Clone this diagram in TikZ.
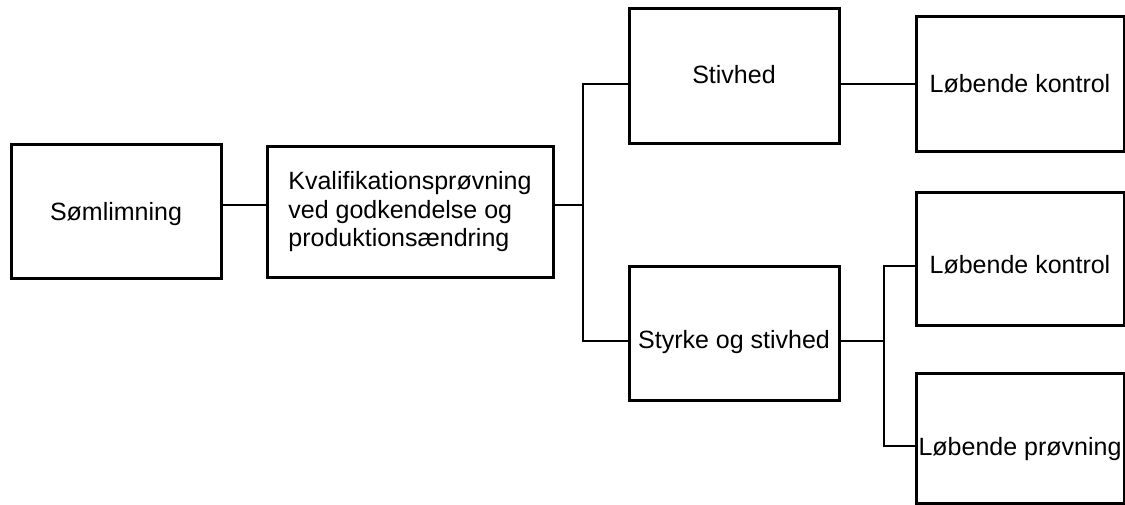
\documentclass[tikz,border=0pt]{standalone}
\usepackage{fontspec}
\setmainfont{Liberation Sans}
\tikzset{mbox/.style = {shape = rectangle,
                        draw = black,
                        line width = 3pt,
                        inner sep = 0pt,
                        font = \fontsize{25pt}{28.5pt}\selectfont}}

\begin{document}
\begin{tikzpicture}[x = 1pt, y = -1pt,
                    tline/.style = {text height = #1, text depth = 0pt},
                    mline/.style = {line width = 2.3pt, line join = miter}]
		\useasboundingbox (0,0) rectangle (1125,505);
		\node[mbox, minimum width = 210pt, minimum height = 134pt, tline = 18pt] (1) at (116,212) {Sømlimning};
		\node[mbox, minimum width = 286pt, minimum height = 131pt, align = left] (2) at (410,212) {Kvalifikationsprøvning\\ved godkendelse og\\produktionsændring};
		\node[mbox, minimum width = 210pt, minimum height = 135pt, tline = 15pt] (3) at (734,76.5) {Stivhed};
		\node[mbox, minimum width = 208pt, minimum height = 135pt, tline = 17pt] (4) at (1020,84.5) {Løbende kontrol};
		\node[mbox, minimum width = 210pt, minimum height = 133pt, tline = 29pt] (5) at (734,333.5) {Styrke og stivhed};
		\node[mbox, minimum width = 208pt, minimum height = 132pt, tline = 28pt] (6) at (1020,259) {Løbende kontrol};
		\node[mbox, minimum width = 208pt, minimum height = 130pt, tline = 34pt] (7) at (1020,438) {Løbende prøvning};
		\coordinate (j1) at (583,205);
		\coordinate (j2) at (583,84);
		\coordinate (j3) at (583,341);
		\coordinate (k1) at (884,341);
		\coordinate (k2) at (884,266);
		\coordinate (k3) at (884,446);
		\draw[mline] (1.east |- j1) -- (2.west |- j1);
		\draw[mline] (2.east |- j1) -- (j1);
		\draw[mline] (3.west |- j2) -- (j2) -- (j3) -- (5.west |- j3);
		\draw[mline] (3.east |- j2) -- (4.west |- j2);
		\draw[mline] (5.east |- k1) -- (k1);
		\draw[mline] (6.west |- k2) -- (k2) -- (k3) -- (7.west |- k3);
	\end{tikzpicture}
\end{document}
